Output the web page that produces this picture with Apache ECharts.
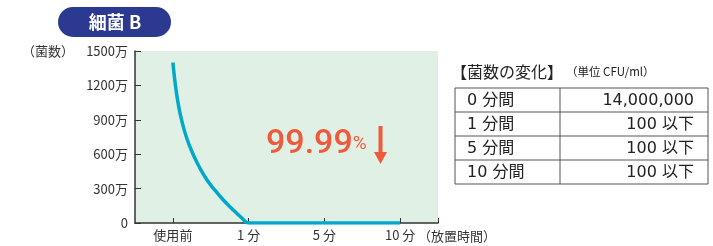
<!DOCTYPE html>
<html>
<head>
<meta charset="utf-8">
<script src="https://cdn.jsdelivr.net/npm/echarts@6/dist/echarts.min.js"></script>
<style>
  html, body { margin: 0; padding: 0; background: #fff; }
  #chart { width: 713px; height: 246px; }
</style>
</head>
<body>
<div id="chart"></div>
<script>
// 横軸の目盛りラベル（位置は 0,1,2,3）
const timeLabels = ['使用前', '1 分', '5 分', '10 分'];
// 曲線の読み取り値（横位置, 菌数[万]）
const curveX = [0, 0.03, 0.06, 0.1, 0.15, 0.21, 0.28, 0.36, 0.45, 0.55, 0.66, 0.78, 0.9, 1, 2, 3];
const curveY = [1400, 1220, 1080, 940, 810, 690, 580, 475, 375, 290, 205, 125, 50, 0, 0, 0];
// 縦軸目盛り
const yTicks = [0, 300, 600, 900, 1200, 1500];
// 表の中身
const tableTimes = ['0 分間', '1 分間', '5 分間', '10 分間'];
const tableCounts = ['14,000,000', '100 以下', '100 以下', '100 以下'];

const FONT = '"Noto Sans CJK JP", sans-serif';
const TFONT = '"DejaVu Sans", "Noto Sans CJK JP", sans-serif';
const TXT = '#333';
const RED = '#ef5a3c';

let chart = echarts.init(document.getElementById('chart'));

// 表を graphic で組み立てる
let tableEls = [];
const tX = 455, tY = 88, tW = 253, rowH = 24, colX = 560;
tableCounts.forEach(function (c, i) {
	let y = tY + i * rowH;
	tableEls.push({
		type: 'text', x: tX + 12, y: y + rowH / 2 + 1,
		style: { text: tableTimes[i], font: '16px ' + TFONT, fill: '#222', verticalAlign: 'middle' }
	});
	tableEls.push({
		type: 'text', x: 694, y: y + rowH / 2 + 1,
		style: { text: c, font: '16px ' + TFONT, fill: '#222', align: 'right', verticalAlign: 'middle' }
	});
	if (i > 0) {
		tableEls.push({
			type: 'line', shape: { x1: tX, y1: y, x2: tX + tW, y2: y },
			style: { stroke: '#555', lineWidth: 1 }
		});
	}
});
tableEls.push({
	type: 'rect', shape: { x: tX, y: tY, width: tW, height: rowH * 4 },
	style: { fill: 'none', stroke: '#555', lineWidth: 1 }
});
tableEls.push({
	type: 'line', shape: { x1: colX, y1: tY, x2: colX, y2: tY + rowH * 4 },
	style: { stroke: '#555', lineWidth: 1 }
});

chart.setOption({
	animation: false,
	textStyle: { fontFamily: FONT },
	grid: {
		left: 135, right: 275, top: 51, bottom: 23,
		show: true, backgroundColor: '#e1f0e5', borderWidth: 0
	},
	xAxis: {
		type: 'value', min: -0.5, max: 3.5,
		splitLine: { show: false },
		axisLine: { onZero: false, lineStyle: { color: TXT, width: 1.5 } },
		axisTick: { inside: true, length: 5, lineStyle: { color: TXT }, customValues: [0, 1, 2, 3, 3.5] },
		axisLabel: {
			customValues: [0, 1, 2, 3], color: TXT, fontSize: 13, margin: 6,
			formatter: function (v) { return timeLabels[Math.round(v)]; }
		}
	},
	yAxis: {
		type: 'value', min: 0, max: yTicks[yTicks.length - 1], interval: 300,
		splitLine: { show: false },
		axisLine: { show: true, onZero: false, lineStyle: { color: TXT, width: 1.5 } },
		axisTick: { show: true, inside: true, length: 6, lineStyle: { color: TXT } },
		axisLabel: {
			color: TXT, fontSize: 13, margin: 7,
			formatter: function (v) { return v === 0 ? '0' : v + '万'; }
		}
	},
	series: [{
		type: 'line',
		data: curveX.map(function (x, i) { return [x, curveY[i]]; }),
		showSymbol: false,
		smooth: 0.4,
		lineStyle: { color: '#00a9c9', width: 3.5 }
	}],
	graphic: [
		// タイトル
		{ type: 'rect', shape: { x: 58, y: 7, width: 113, height: 30, r: 15 }, style: { fill: '#2b3990' } },
		{ type: 'text', x: 115, y: 22, style: { text: '細菌 B', font: 'bold 18px ' + FONT, fill: '#fff', align: 'center', verticalAlign: 'middle' } },
		// 軸名
		{ type: 'text', x: 74, y: 51, style: { text: '（菌数）', font: '13px ' + FONT, fill: TXT, align: 'right', verticalAlign: 'middle' } },
		{ type: 'text', x: 418, y: 236, style: { text: '（放置時間）', font: '13px ' + FONT, fill: TXT, verticalAlign: 'middle' } },
		// 99.99%
		{
			type: 'text', x: 266, y: 161,
			style: {
				text: '{a|99.99}{b|%}', verticalAlign: 'bottom',
				rich: {
					a: { fontSize: 34, fontFamily: 'Roboto', fontWeight: 500, fill: RED },
					b: { fontSize: 19, fontFamily: 'Roboto', fill: RED }
				}
			}
		},
		{ type: 'rect', shape: { x: 378.5, y: 126, width: 4, height: 28 }, style: { fill: RED } },
		{ type: 'polygon', shape: { points: [[374, 152], [387, 152], [380.5, 164]] }, style: { fill: RED } },
		// 表タイトル
		{ type: 'text', x: 451, y: 72, style: { text: '【菌数の変化】', font: '16px ' + FONT, fill: '#222', verticalAlign: 'middle' } },
		{ type: 'text', x: 566, y: 72, style: { text: '（単位 CFU/ml）', font: '11.5px ' + FONT, fill: '#222', verticalAlign: 'middle' } }
	].concat(tableEls)
});
</script>
</body>
</html>
